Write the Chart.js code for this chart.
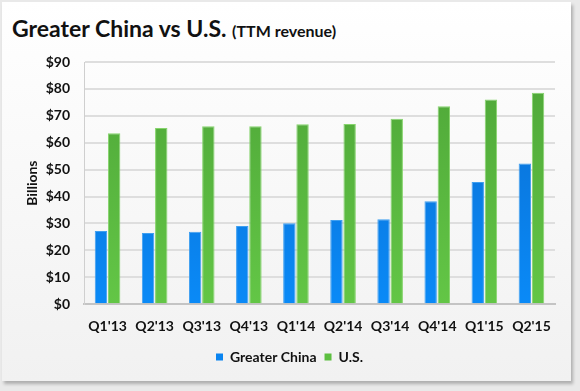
<!DOCTYPE html>
<html><head><meta charset="utf-8">
<script src="https://cdn.jsdelivr.net/npm/chart.js@4"></script>
<style>
html,body{margin:0;padding:0;width:580px;height:391px;background:#e9e9e9;overflow:hidden;font-family:Lato,"Open Sans",sans-serif;}
#card{position:absolute;left:2px;top:2px;width:569px;height:379px;background:linear-gradient(#ffffff,#f1f1f1);box-shadow:2px 3px 3px rgba(0,0,0,0.25);}
#title{position:absolute;left:12px;top:14px;font-weight:bold;font-size:23px;color:#111;white-space:nowrap;}
#title span{font-size:16px;}
#wrap{position:absolute;left:0;top:0;width:580px;height:391px;}
</style></head>
<body>
<div id="card"></div>
<div id="title">Greater China vs U.S. <span>(TTM revenue)</span></div>
<div id="wrap"><canvas id="c" width="580" height="391"></canvas></div>
<script>
const categories = ["Q1'13","Q2'13","Q3'13","Q4'13","Q1'14","Q2'14","Q3'14","Q4'14","Q1'15","Q2'15"];
const greaterChina = [27.2, 26.5, 26.9, 29.1, 30.1, 31.3, 31.6, 38.3, 45.4, 52.3];
const us = [63.5, 65.5, 66.1, 66.1, 66.9, 67.0, 68.9, 73.6, 76.1, 78.6];
const seriesNames = ["Greater China", "U.S."];
const yTicks = [0,10,20,30,40,50,60,70,80,90];

function grad(top, bottom){
  return function(ctx){
    const ca = ctx.chart.chartArea;
    if(!ca) return bottom;
    const g = ctx.chart.ctx.createLinearGradient(0, ca.top, 0, ca.bottom);
    g.addColorStop(0, top); g.addColorStop(1, bottom);
    return g;
  };
}
const FONT = "Lato, 'Open Sans', sans-serif";
new Chart(document.getElementById('c'), {
  type: 'bar',
  data: {
    labels: categories,
    datasets: [
      {label: seriesNames[0], data: greaterChina, backgroundColor: grad('#0a6ccf','#0a8af7'), borderColor:'#3f9ff0', borderWidth:1, borderSkipped:'bottom', barPercentage:0.94, categoryPercentage:0.56},
      {label: seriesNames[1], data: us, backgroundColor: grad('#4ea638','#63c646'), borderColor:'#86d46c', borderWidth:1, borderSkipped:'bottom', barPercentage:0.94, categoryPercentage:0.56}
    ]
  },
  options: {
    responsive:false, animation:false,
    layout:{padding:{top:62, right:25, bottom:17, left:24}},
    plugins:{
      legend:{position:'bottom', labels:{boxWidth:7, boxHeight:7, padding:8, color:'#111', font:{family:FONT, size:14, weight:'bold'},
        generateLabels(chart){
          return chart.data.datasets.map((d,i)=>({text:d.label, fillStyle:i===0?'#0a84f0':'#5cbf40', strokeStyle:i===0?'#0a84f0':'#5cbf40', lineWidth:0, datasetIndex:i, fontColor:'#111'}));
        }}},
      tooltip:{enabled:false}
    },
    scales:{
      x:{
        afterFit(s){ s.height -= 7; },
        grid:{display:false, drawTicks:false},
        border:{color:'#c4c4c4', width:2},
        ticks:{color:'#111', padding:14, font:{family:FONT, size:14, weight:'bold'}}
      },
      y:{
        min:0, max:90,
        afterBuildTicks(s){ s.ticks = yTicks.map(v=>({value:v})); },
        afterFit(s){ s.width = 60; },
        grid:{color:'#dedede', lineWidth:2, drawTicks:false},
        border:{color:'#cfcfcf', width:1},
        ticks:{color:'#111', padding:14, font:{family:FONT, size:14, weight:'bold'}, callback:v=>'$'+v},
        title:{display:true, text:'Billions', color:'#111', padding:{top:0,bottom:0}, font:{family:FONT, size:14, weight:'bold'}}
      }
    }
  }
});
</script>
</body></html>
